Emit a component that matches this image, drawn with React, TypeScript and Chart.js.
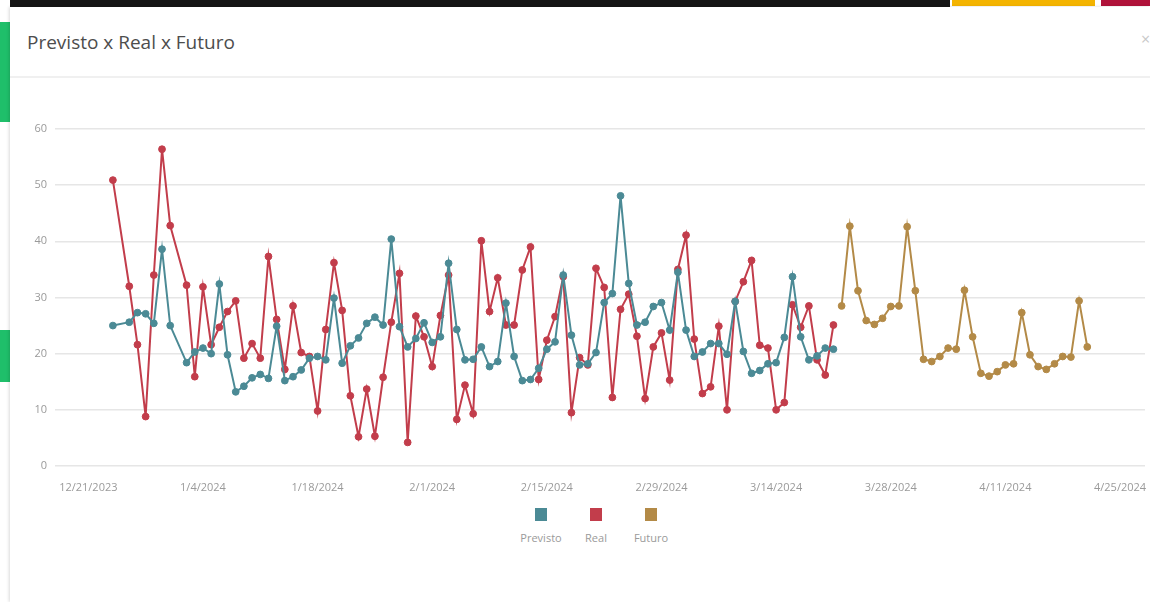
import React, { useEffect, useRef } from "react";
import { Chart, registerables } from "chart.js";

Chart.register(...registerables);

// Day offsets from 12/21/2023
const tickDays = [0, 14, 28, 42, 56, 70, 84, 98, 112, 126];
const tickLabels = [
  "12/21/2023", "1/4/2024", "1/18/2024", "2/1/2024", "2/15/2024",
  "2/29/2024", "3/14/2024", "3/28/2024", "4/11/2024", "4/25/2024",
];

const actualDays = [
  3, 5, 6, 7, 8, 9, 10, 12, 13, 14, 15, 16, 17, 18, 19, 20, 21, 22, 23, 24,
  25, 26, 27, 28, 29, 30, 31, 32, 33, 34, 35, 36, 37, 38, 39, 40, 41, 42, 43, 44,
  45, 46, 47, 48, 49, 50, 51, 52, 53, 54, 55, 56, 57, 58, 59, 60, 61, 62, 63, 64,
  65, 66, 67, 68, 69, 70, 71, 72, 73, 74, 75, 76, 77, 78, 79, 80, 81, 82, 83, 84,
  85, 86, 87, 88, 89, 90, 91,
];

const previsto = [
  25.0, 25.6, 27.3, 27.1, 25.4, 38.6, 25.0, 18.4, 20.3, 21.0, 20.0, 32.4, 19.8, 13.2, 14.2, 15.7, 16.3, 15.6, 24.9, 15.2,
  15.9, 17.1, 19.2, 19.5, 18.9, 29.9, 18.3, 21.4, 22.8, 25.4, 26.5, 25.1, 40.4, 24.8, 21.2, 22.7, 25.5, 22.0, 23.0, 36.1,
  24.3, 18.9, 19.0, 21.2, 17.7, 18.6, 29.0, 19.5, 15.2, 15.4, 17.4, 20.8, 22.1, 34.0, 23.3, 18.0, 18.2, 20.2, 29.1, 30.7,
  48.1, 32.5, 25.1, 25.6, 28.4, 29.1, 24.2, 34.5, 24.2, 19.5, 20.3, 21.8, 21.8, 19.9, 29.3, 20.4, 16.5, 17.0, 18.2, 18.4,
  22.9, 33.7, 23.0, 18.9, 19.6, 21.0, 20.8,
];

const real = [
  50.9, 32.0, 21.6, 8.8, 34.0, 56.4, 42.8, 32.2, 15.9, 31.9, 21.6, 24.7, 27.5, 29.4, 19.2, 21.8, 19.2, 37.3, 26.1, 17.2,
  28.5, 20.2, 19.5, 9.8, 24.3, 36.2, 27.7, 12.5, 5.2, 13.7, 5.3, 15.8, 25.6, 34.3, 4.2, 26.7, 23.0, 17.7, 26.8, 34.0,
  8.3, 14.4, 9.3, 40.1, 27.5, 33.5, 25.1, 25.1, 34.9, 39.0, 15.4, 22.4, 26.6, 33.7, 9.5, 19.3, 18.0, 35.2, 31.8, 12.2,
  27.9, 30.6, 23.1, 12.0, 21.2, 23.7, 15.3, 35.0, 41.1, 22.6, 12.9, 14.1, 24.9, 10.0, 29.3, 32.8, 36.6, 21.5, 21.0, 10.0,
  11.3, 28.7, 24.7, 28.5, 18.9, 16.2, 25.1,
];

const futureDays = [
  92, 93, 94, 95, 96, 97, 98, 99, 100, 101, 102, 103, 104, 105, 106, 107,
  108, 109, 110, 111, 112, 113, 114, 115, 116, 117, 118, 119, 120, 121, 122,
];
const futuro = [
  28.5, 42.7, 31.2, 25.9, 25.2, 26.3, 28.4, 28.5, 42.6, 31.2, 19.0, 18.6, 19.5, 21.0, 20.8, 31.3,
  23.0, 16.5, 16.0, 16.8, 18.0, 18.2, 27.3, 19.8, 17.7, 17.2, 18.2, 19.5, 19.4, 29.4, 21.2,
];

const seriesNames = ["Previsto", "Real", "Futuro"];
const seriesColors = ["#4b8a95", "#c23d4b", "#b38a47"];

const FONT = "'Open Sans', 'Noto Sans', sans-serif";

export default function App() {
  const canvasRef = useRef<HTMLCanvasElement | null>(null);

  useEffect(() => {
    if (!canvasRef.current) return;
    const mk = (days: number[], vals: number[]) => days.map((d, i) => ({ x: d, y: vals[i] }));
    const ds = (idx: number, data: { x: number; y: number }[]) => ({
      label: seriesNames[idx],
      data,
      borderColor: seriesColors[idx],
      backgroundColor: seriesColors[idx],
      pointBackgroundColor: seriesColors[idx],
      pointBorderColor: seriesColors[idx],
      borderWidth: 2,
      pointRadius: 3.4,
      pointBorderWidth: 1,
      tension: 0,
      fill: false,
    });
    const chart = new Chart(canvasRef.current, {
      type: "line",
      data: {
        datasets: [
          ds(0, mk(actualDays, previsto)),
          ds(1, mk(actualDays, real)),
          ds(2, mk(futureDays, futuro)),
        ],
      },
      options: {
        animation: false,
        responsive: true,
        maintainAspectRatio: false,
        layout: { padding: { top: 29, right: 5, left: 0, bottom: 6 } },
        plugins: { legend: { display: false }, tooltip: { enabled: false } },
        scales: {
          x: {
            type: "linear",
            min: -4.07,
            max: 129.05,
            grid: { display: false, drawTicks: false },
            border: { display: false },
            afterBuildTicks: (s: any) => {
              s.ticks = tickDays.map((v) => ({ value: v }));
            },
            afterFit: (s: any) => {
              s.height = 28;
              s.paddingLeft = 0;
              s.paddingRight = 0;
            },
            ticks: {
              autoSkip: false,
              maxRotation: 0,
              minRotation: 0,
              padding: 15,
              color: "#9a9a9a",
              font: { family: FONT, size: 11 },
              callback: (v: any) => {
                const i = tickDays.indexOf(Number(v));
                return i >= 0 ? tickLabels[i] : "";
              },
            },
          },
          y: {
            min: 0,
            max: 60,
            grid: { color: "#e6e6e6", lineWidth: 1.5, drawTicks: false },
            border: { display: false },
            afterFit: (s: any) => {
              s.width = 55;
              s.paddingTop = 0;
              s.paddingBottom = 0;
            },
            ticks: {
              stepSize: 10,
              padding: 8,
              color: "#9a9a9a",
              font: { family: FONT, size: 11 },
            },
          },
        },
      },
    });
    return () => chart.destroy();
  }, []);

  return (
    <div
      style={{
        position: "fixed",
        left: 0,
        top: 0,
        width: 1150,
        height: 602,
        background: "#ffffff",
        overflow: "hidden",
        fontFamily: FONT,
      }}
    >
      {/* page behind the dialog */}
      <div style={{ position: "absolute", left: 10, top: 0, width: 940, height: 7, background: "#151515" }} />
      <div style={{ position: "absolute", left: 952, top: 0, width: 143, height: 6, background: "#f4b400" }} />
      <div style={{ position: "absolute", left: 1101, top: 0, width: 49, height: 6, background: "#b0123a" }} />
      <div style={{ position: "absolute", left: 0, top: 22, width: 10, height: 100, background: "#1fbf6a" }} />
      <div style={{ position: "absolute", left: 0, top: 330, width: 10, height: 52, background: "#1fbf6a" }} />
      <div
        style={{
          position: "absolute",
          left: 10,
          top: 7,
          width: 1140,
          height: 595,
          background: "#fff",
          boxShadow: "-1px 0 3px rgba(0,0,0,0.15)",
        }}
      />
      <div
        style={{
          position: "absolute",
          left: 27,
          top: 29,
          fontSize: 19,
          color: "#4d4d4d",
          lineHeight: "26px",
        }}
      >
        Previsto x Real x Futuro
      </div>
      <div style={{ position: "absolute", left: 1141, top: 28, fontSize: 16, color: "#c8c8c8" }}>×</div>
      <div style={{ position: "absolute", left: 10, top: 76, width: 1140, height: 2, background: "#f0f0f0" }} />
      <div style={{ position: "absolute", left: 0, top: 100, width: 1150, height: 400 }}>
        <canvas ref={canvasRef} />
      </div>
      <div
        style={{
          position: "absolute",
          left: 0,
          top: 508,
          width: 1150,
          display: "flex",
          justifyContent: "center",
          paddingLeft: 42,
          boxSizing: "border-box",
        }}
      >
        {seriesNames.map((n, i) => (
          <div
            key={n}
            style={{ width: 55, display: "flex", flexDirection: "column", alignItems: "center" }}
          >
            <div style={{ width: 12, height: 13, background: seriesColors[i] }} />
            <div style={{ marginTop: 9, fontSize: 11, color: "#9a9a9a" }}>{n}</div>
          </div>
        ))}
      </div>
    </div>
  );
}
